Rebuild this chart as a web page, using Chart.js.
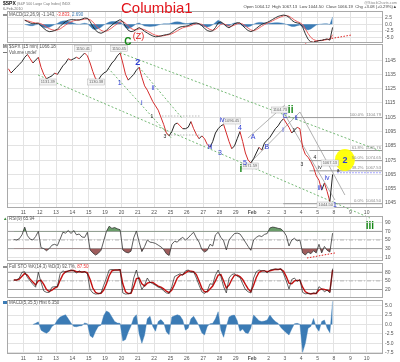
<!DOCTYPE html>
<html><head><meta charset="utf-8">
<script src="https://cdn.jsdelivr.net/npm/chart.js@4.4.1/dist/chart.umd.min.js"></script>
<style>
html,body{margin:0;padding:0;background:#fff;}
#wrap{position:relative;width:400px;height:362px;overflow:hidden;}
#wrap canvas{position:absolute;left:0;top:0;}
</style></head><body>
<div id="wrap">
<canvas id="cMacd" width="400" height="362"></canvas>
<canvas id="cMain" width="400" height="362"></canvas>
<canvas id="cRsi" width="400" height="362"></canvas>
<canvas id="cSto" width="400" height="362"></canvas>
<canvas id="cHist" width="400" height="362"></canvas>
</div>
<script>
// ---------- data (15-min chart sampled 6 times per trading day, Jan 8 .. Feb 5 2010) ----------
const dayLabels = ['11','12','13','14','15','19','20','21','22','25','26','27','28','29','Feb','2','3','4','5','8','9','10'];
const samplesPerDay = 6;

const priceClose = [
1139,1136,1138,1140,1142,1144, 1147,1149,1146,1143,1145,1147, 1140,1135,1132,1133,1134,1136,
1135,1138,1141,1143,1146,1145, 1146,1147,1146,1148,1150,1148, 1143,1137,1132,1131,1134,1136,
1137,1140,1143,1145,1148,1150, 1143,1135,1131,1133,1135,1138, 1140,1133,1127,1124,1120,1116,
1113,1110,1105,1100,1094,1092, 1095,1100,1101,1099,1097,1097, 1098,1102,1097,1093,1090,1092,
1090,1086,1084,1088,1094,1097, 1099,1100,1094,1088,1083,1085, 1090,1095,1088,1080,1075,1073,
1076,1080,1084,1082,1087,1089, 1091,1094,1097,1099,1102,1104, 1101,1098,1094,1096,1098,1097,
1084,1079,1077,1074,1070,1064, 1061,1054,1059,1053,1046,1065];

const macdLine = [
null,null,null,null,null,null, 1.5,1.0,0.5,0.2,0.3,0.4, -0.5,-1.5,-2.3,-2.7,-2.6,-2.3,
-1.8,-0.8,0.2,1.0,1.5,1.7, 1.7,1.6,1.6,1.9,2.3,2.2, 1.0,-0.8,-2.2,-3.0,-3.3,-2.9,
-2.2,-1.2,-0.3,0.5,1.2,1.7, 1.0,-0.8,-2.2,-2.7,-2.5,-1.8, -1.2,-1.8,-2.6,-3.2,-3.8,-4.3,
-4.6,-4.5,-4.3,-4.0,-3.8,-3.6, -3.0,-2.2,-1.5,-1.0,-0.8,-0.7, -0.5,0.0,0.4,0.5,0.2,-0.5,
-1.5,-2.3,-2.6,-2.4,-1.2,0.5, 0.9,0.2,-0.8,-1.3,-0.6,0.2, 0.6,0.5,-0.5,-1.5,-2.3,-2.7,
-2.3,-1.5,-0.7,0.0,0.4,0.7, 1.2,1.8,2.4,2.9,3.2,3.4, 3.2,2.6,1.5,0.8,0.5,0.3,
-1.0,-3.5,-5.5,-6.5,-6.6,-6.3, -6.0,-5.9,-5.6,-5.4,-5.8,-1.143];

const macdSignal = [
null,null,null,null,null,null, 1.5,1.3,1.0,0.7,0.5,0.4, 0.2,-0.3,-1.0,-1.6,-2.0,-2.2,
-2.1,-1.7,-1.0,-0.3,0.4,0.9, 1.3,1.5,1.6,1.7,1.9,2.0, 1.7,0.9,-0.3,-1.4,-2.2,-2.6,
-2.5,-2.0,-1.3,-0.5,0.2,0.9, 1.0,0.4,-0.6,-1.5,-2.0,-2.0, -1.7,-1.7,-2.0,-2.5,-3.0,-3.6,
-4.0,-4.2,-4.3,-4.2,-4.0,-3.8, -3.5,-3.0,-2.4,-1.8,-1.3,-1.0, -0.8,-0.5,-0.1,0.2,0.2,0.0,
-0.6,-1.3,-1.9,-2.2,-1.9,-1.0, 0.0,0.2,-0.2,-0.7,-0.7,-0.3, 0.2,0.4,0.1,-0.6,-1.4,-2.1,
-2.3,-2.0,-1.4,-0.7,-0.1,0.4, 0.8,1.3,1.8,2.3,2.7,3.1, 3.2,3.0,2.3,1.6,1.0,0.6,
-0.1,-1.7,-3.4,-4.8,-5.6,-6.0, -6.0,-6.0,-5.8,-5.6,-5.7,-3.833];

const macdHist = [
null,null,null,null,null,null, 0.0,-0.3,-0.5,-0.5,-0.2,0.0, -0.7,-1.2,-1.3,-1.1,-0.6,-0.1,
0.3,0.9,1.2,1.3,1.1,0.8, 0.4,0.1,0.0,0.2,0.4,0.2, -0.7,-1.7,-1.9,-1.6,-1.1,-0.3,
0.3,0.8,1.0,1.0,1.0,0.8, 0.0,-1.2,-1.6,-1.2,-0.5,0.2, 0.5,-0.1,-0.6,-0.7,-0.8,-0.7,
-0.6,-0.3,0.0,0.2,0.2,0.2, 0.5,0.8,0.9,0.8,0.5,0.3, 0.3,0.5,0.5,0.3,0.0,-0.5,
-0.9,-1.0,-0.7,-0.2,0.7,1.5, 0.9,0.0,-0.6,-0.6,0.1,0.5, 0.4,0.1,-0.6,-0.9,-0.9,-0.6,
0.0,0.5,0.7,0.7,0.5,0.3, 0.4,0.5,0.6,0.6,0.5,0.3, 0.0,-0.4,-0.8,-0.8,-0.5,-0.3,
-0.9,-1.8,-2.1,-1.7,-1.0,-0.3, 0.0,0.1,0.2,0.2,-0.1,2.69];

const rsi9 = [
null,null,51,50,53,62, 80,60,52,50,58,70, 32,30,25,30,38,40,
37,52,68,66,72,65, 72,62,64,57,56,68, 27,20,15,19,26,48,
70,82,77,79,76,74, 27,22,20,24,55,71, 45,23,35,50,45,44,
42,38,34,28,18,14, 40,47,45,52,56,50, 55,62,68,55,45,28,
22,26,40,36,62,68, 56,48,27,50,58,65, 66,64,55,45,35,26,
50,56,60,58,63,65, 78,80,79,77,76,70, 60,36,50,54,48,50,
20,15,22,18,25,20, 40,20,35,26,22,65.94];

const stoK = [
null,null,53,53,60,80, 82,62,50,38,28,80, 45,15,10,10,28,30,
30,75,85,80,85,88, 85,78,85,80,82,75, 20,8,4,5,8,35,
60,88,90,88,88,90, 8,4,5,8,60,88, 50,20,35,60,45,40,
35,28,25,15,8,6, 30,65,70,75,70,85, 88,80,82,60,35,12,
6,15,40,38,70,88, 65,30,8,60,72,75, 66,62,40,20,12,8,
60,82,88,85,86,78, 88,90,92,90,93,75, 50,22,55,60,48,55,
10,5,6,4,8,6, 30,22,12,18,8,92.7];

const stoD = [
null,null,53,53,56,66, 76,70,56,46,36,50, 52,38,20,13,18,25,
30,52,72,82,84,86, 86,82,82,81,82,78, 55,25,10,6,7,18,
40,68,85,88,88,89, 40,12,6,7,30,58, 60,40,32,42,45,45,
38,32,28,22,14,9, 18,38,60,70,72,78, 85,84,82,72,50,25,
12,12,22,32,50,70, 72,50,25,35,55,70, 70,65,55,38,22,12,
35,62,80,85,85,82, 85,88,90,90,91,84, 65,42,40,50,52,52,
28,12,7,5,6,6, 18,22,20,18,14,87.5];

const macd2Hist = [
null,null,null,null,null,null, null,null,null,0.0,0.3,0.7, -1.5,-2.0,-2.3,-1.8,-0.5,0.0,
1.2,2.0,2.3,2.6,1.5,0.4, -0.5,-0.6,-0.4,-0.3,0.4,0.2, -3.0,-3.5,-1.8,-0.5,-0.2,2.4,
3.6,3.2,2.0,0.8,0.4,0.3, -4.4,-4.0,-2.0,-0.4,1.8,2.6, -2.5,-5.0,-2.8,1.5,2.2,-0.5,
-1.8,0.8,1.3,0.5,-2.0,-2.7, 2.0,2.3,2.6,2.3,1.2,-1.5, -1.0,1.5,2.2,1.0,-0.4,-2.2,
-2.8,-0.5,0.2,0.3,1.5,3.4, -1.5,-3.4,-0.5,2.0,2.4,2.5, 1.0,-1.8,-1.2,-2.2,-2.4,-1.0,
2.5,1.8,1.0,0.8,0.9,1.2, 2.5,1.5,0.8,0.3,-0.8,-1.5, -2.2,-2.8,-1.2,0.2,0.3,0.1,
-7.4,-5.0,-1.0,-0.5,1.6,-0.8, -1.8,0.8,1.2,-1.0,-2.2,6.2];

const priceTicks = [1045,1050,1055,1060,1065,1070,1075,1080,1085,1090,1095,1100,1105,1110,1115,1120,1125,1130,1135,1140,1145,1150];
const macdTicks = [-5,-2.5,0,2.5];
const rsiTicks = [10,30,50,70,90];
const rsiLevels = [70,30];
const stoTicks = [20,50,80];
const stoLevels = [80,20];
const histTicks = [-7.5,-5,-2.5,0,2.5,5];

const fibNames = ['100.0%','61.8%','50.0%','38.2%','0.0%'];
const fibLevels = [1104.79,1081.76,1074.65,1067.53,1044.50];
const fibStartDay = [16.9,18.5,18.5,18.5,16.9];
const lastPrice = 1066.18;

// trend lines: [day, value, day, value]
const greenTrends = [[6.91,1150.2,23.0,1080.7],[1.9,1134.6,22.2,1034.5],[6.18,1139.5,10.09,1090.0],[8.07,1140.2,10.7,1104.5]];
const grayTrends = [[14.56,1069.5,17.92,1108.7],[14.74,1090.5,17.0,1113.6],[16.94,1108.0,20.06,1047.1],[17.92,1108.7,20.67,1050.6]];
const grayGuides = [[9.48,1105.9,11.8,1105.9],[9.66,1092.6,11.8,1092.6]];
const macdTrend = [18.23,-6.9,21.1,-3.9];
const rsiTrend = [18.35,8.1,20.06,19.8];

// annotations: [text, day, price, kind]
const waveNotes = [
 ['1',6.9,1129.0,'b'],['2',8.0,1143.5,'B'],['i',8.25,1115.0,'b'],['ii',8.93,1125.5,'b'],
 ['1',8.87,1105.2,'k'],['3',9.66,1091.2,'k'],
 ['iii',12.42,1084.2,'b'],['3',13.03,1080.0,'b'],['iv',13.15,1103.1,'b'],['4',14.25,1097.5,'b'],
 ['5',14.56,1073.0,'b'],['i',14.3,1068.5,'g'],['A',15.05,1091.2,'b'],['B',15.9,1084.2,'b'],
 ['C',17.0,1105.9,'b'],['ii',17.35,1109.8,'g'],['i',16.88,1096.1,'b'],['ii',17.68,1104.5,'b'],
 ['1',17.55,1096.0,'k'],['3',18.04,1071.6,'k'],['4',18.84,1076.5,'k'],['iv',19.14,1069.5,'k'],
 ['iii',19.14,1055.5,'b'],['iv',19.57,1062.5,'b'],['1',20.06,1043.6,'b'],['a',20.25,1067.5,'k'],
 ['2',20.67,1074.6,'B'],['C',7.4,1157.6,'G'],['(Z)',8.05,1161.2,'r']];
const boxNotes = [['1150.41',4.65,1153.2],['1150.45',6.85,1153.2],['1131.39',2.5,1129.7],['1130.38',5.45,1129.7],
 ['1096.45',13.76,1102.4],['1071.59',14.86,1070.9],['1104.73',16.7,1110.1],['1044.50',19.5,1043.6],['1067.13',19.75,1073.0]];
const circleAt = [20.67,1075.1];

// ---------- rendering ----------
const H = 362;
const FONT = "'Liberation Sans', Arial, sans-serif";
Chart.defaults.font.family = FONT;
Chart.defaults.font.size = 5;
Chart.defaults.color = '#555';
Chart.defaults.animation = false;

const toXY = arr => arr.map((v, i) => ({x: (i + 0.5) / samplesPerDay, y: v}));
const seg = t => [{x: t[0], y: t[1]}, {x: t[2], y: t[3]}];
const hline = (v, from, to) => [{x: from, y: v}, {x: to, y: v}];

function txt(ctx, s, x, y, font, color, align, base) {
  ctx.font = font; ctx.fillStyle = color;
  ctx.textAlign = align || 'left'; ctx.textBaseline = base || 'middle';
  ctx.fillText(s, x, y);
  return ctx.measureText(s).width;
}
const f = (px, w) => (w ? w + ' ' : '') + px + 'px ' + FONT;

const boxPlugin = {id: 'panelBox', afterDraw(chart) {
  const {ctx, chartArea: a} = chart;
  ctx.save(); ctx.strokeStyle = '#a9a9a9'; ctx.lineWidth = 1;
  ctx.strokeRect(Math.round(a.left) + 0.5, Math.round(a.top) + 0.5, Math.round(a.right - a.left) - 1, Math.round(a.bottom - a.top) - 1);
  ctx.restore();
}};

function xScale(showLabels) {
  return {
    type: 'linear', min: 0, max: 23, offset: false,
    afterBuildTicks: ax => { ax.ticks = dayLabels.map((_, i) => ({value: i + 1})); },
    afterFit: ax => { ax.height = showLabels ? 9 : 0; },
    grid: {color: '#e3e3e3', drawTicks: false, lineWidth: 1},
    border: {display: false},
    ticks: {display: showLabels, padding: 2, maxRotation: 0, autoSkip: false, color: '#555',
      font: ctx => ({size: 5, weight: (ctx.tick && ctx.tick.value === 15) ? 'bold' : 'normal'}),
      callback: v => dayLabels[v - 1] || ''}
  };
}
function yScale(min, max, ticks, fmt) {
  return {
    type: 'linear', position: 'right', min, max,
    afterBuildTicks: ax => { ax.ticks = ticks.map(v => ({value: v})); },
    afterFit: ax => { ax.width = 17; },
    grid: {color: '#e3e3e3', drawTicks: false},
    border: {display: false},
    ticks: {padding: 2, color: '#555', font: {size: 5}, callback: fmt}
  };
}
function makeChart(id, top, bottom, showX, yOpts, datasets, draw) {
  return new Chart(document.getElementById(id), {
    type: 'line',
    data: {datasets},
    options: {
      responsive: false, animation: false, events: [],
      layout: {padding: {left: 7, right: 0, top: top, bottom: H - bottom - (showX ? 9 : 0)}},
      plugins: {legend: {display: false}, tooltip: {enabled: false}},
      scales: {x: xScale(showX), y: yOpts},
      elements: {point: {radius: 0}, line: {tension: 0}}
    },
    plugins: [boxPlugin, {id: 'notes', afterDraw(chart) {
      if (!draw) return;
      const c = chart.ctx; c.save(); draw(c, chart.scales.x, chart.scales.y); c.restore();
    }}]
  });
}

// ---- top MACD(12,26,9) panel + page header ----
makeChart('cMacd', 11, 43, false, yScale(-6.875, 4.89, macdTicks, v => v.toFixed(1)), [
  {data: toXY(macdLine), borderColor: '#222', borderWidth: 0.9},
  {data: toXY(macdSignal), borderColor: '#ee5555', borderWidth: 0.9},
  {data: seg(macdTrend), borderColor: '#e02020', borderWidth: 1, borderDash: [1.5, 1.5], clip: false},
  {data: toXY(macdHist), borderColor: '#3b7bb5', borderWidth: 0.4, backgroundColor: '#3b7bb5', fill: 'origin'}
], (ctx) => {
  let x = 3;
  x += txt(ctx, '$SPX', x, 3.5, f(5, 'bold'), '#111');
  txt(ctx, ' (S&P 500 Large Cap Index) INDX', x, 3.5, f(3.6), '#777');
  txt(ctx, '6-Feb-2010', 3, 9, f(3.8), '#777');
  txt(ctx, 'Columbia1', 121, 12.5, f(15), '#e3141b', 'left', 'alphabetic');
  txt(ctx, '@StockCharts.com', 397, 2.8, f(3.8), '#888', 'right');
  txt(ctx, 'Open 1064.12  High 1067.13  Low 1044.50  Close 1066.19  Chg +3.08 (+0.29%)\u25B2', 397, 7, f(4.2), '#444', 'right');
  ctx.fillStyle = '#222'; ctx.fillRect(3, 14.5, 4, 1);
  let lx = 9;
  lx += txt(ctx, 'MACD(12,26,9) -1.143, ', lx, 15, f(4.5), '#555');
  lx += txt(ctx, '-3.833, ', lx, 15, f(4.5), '#e33');
  txt(ctx, '2.690', lx, 15, f(4.5), '#3b7bb5');
});

// ---- main price panel ----
const styleMap = {
  b: [f(7), '#2d3cd2'], B: [f(9, 'bold'), '#2d3cd2'], k: [f(5), '#222'],
  g: [f(10, 'bold'), '#168816'], G: [f(10, 'bold'), '#168816'], r: [f(9), '#e02020']
};
makeChart('cMain', 44, 208, true, yScale(1041.5, 1156.3, priceTicks, v => String(v)), [
  {data: toXY(priceClose), borderWidth: 1, borderColor: '#222',
   segment: {borderColor: c => c.p1.parsed.y < c.p0.parsed.y ? '#d42b2b' : '#262626'}},
  ...greenTrends.map(t => ({data: seg(t), borderColor: '#74b874', borderWidth: 1, borderDash: [2, 2], clip: false})),
  ...grayTrends.map(t => ({data: seg(t), borderColor: '#9d9d9d', borderWidth: 0.8})),
  ...grayGuides.map(t => ({data: seg(t), borderColor: '#aaaaaa', borderWidth: 0.8, borderDash: [1.5, 1.5]})),
  {data: hline(lastPrice, 20.2, 23), borderColor: '#6b6bff', borderWidth: 0.8, borderDash: [1.5, 1.5]},
  ...fibLevels.map((v, i) => ({data: hline(v, fibStartDay[i], 23), borderColor: '#9a9a9a', borderWidth: 1}))
], (ctx, xs, ys) => {
  const cx = xs.getPixelForValue(circleAt[0]), cy = ys.getPixelForValue(circleAt[1]);
  ctx.fillStyle = 'rgba(255,255,0,0.95)';
  ctx.beginPath(); ctx.ellipse(cx, cy, 10, 11, 0, 0, Math.PI * 2); ctx.fill();
  fibLevels.forEach((v, i) => txt(ctx, fibNames[i] + '  ' + v.toFixed(2), 381, ys.getPixelForValue(v) - 3, f(4.2), '#8a8a8a', 'right'));
  boxNotes.forEach(([s, d, p]) => {
    ctx.font = f(4); const w = ctx.measureText(s).width + 3;
    const x = xs.getPixelForValue(d), y = ys.getPixelForValue(p);
    ctx.fillStyle = '#f3f3f3'; ctx.fillRect(x - w / 2, y - 3, w, 6);
    ctx.strokeStyle = '#b5b5b5'; ctx.lineWidth = 0.5; ctx.strokeRect(x - w / 2, y - 3, w, 6);
    txt(ctx, s, x, y, f(4), '#666', 'center');
  });
  waveNotes.forEach(([s, d, p, k]) => {
    const st = styleMap[k];
    txt(ctx, s, xs.getPixelForValue(d), ys.getPixelForValue(p), st[0], st[1], 'center');
  });
  txt(ctx, 'M', 3, 47, f(4.5, 'bold'), '#555');
  txt(ctx, '$SPX (15 min) 1066.18', 9, 47, f(4.5), '#555');
  ctx.fillStyle = '#777'; ctx.fillRect(3, 52, 4, 1);
  txt(ctx, 'Volume undef', 9, 52.5, f(4.5), '#555');
});

// ---- RSI panel ----
makeChart('cRsi', 216, 261, false, yScale(1.16, 105.8, rsiTicks, v => String(v)), [
  {data: toXY(rsi9), borderColor: '#333', borderWidth: 0.8,
   fill: {target: {value: 70}, above: '#6a9d6a', below: 'rgba(0,0,0,0)'}},
  {data: toXY(rsi9), borderColor: 'rgba(0,0,0,0)', borderWidth: 0,
   fill: {target: {value: 30}, above: 'rgba(0,0,0,0)', below: '#9e5c5c'}},
  ...rsiLevels.map(v => ({data: hline(v, 0, 23), borderColor: '#9c9c9c', borderWidth: 1})),
  {data: hline(50, 0, 23), borderColor: '#aaaaaa', borderWidth: 0.8, borderDash: [4, 2, 1, 2]},
  {data: seg(rsiTrend), borderColor: '#e02020', borderWidth: 1, borderDash: [1.5, 1.5]}
], (ctx, xs, ys) => {
  txt(ctx, '\u25B2', 3, 219, f(4.5), '#3a8a3a');
  txt(ctx, 'RSI(9) 65.94', 9, 219, f(4.5), '#555');
  txt(ctx, 'iii', xs.getPixelForValue(22.2), ys.getPixelForValue(81), f(10, 'bold'), '#168816', 'center');
});

// ---- Full STO panel ----
makeChart('cSto', 263, 298, false, yScale(-9.6, 112.4, stoTicks, v => String(v)), [
  {data: toXY(stoK), borderColor: '#222', borderWidth: 0.7},
  {data: toXY(stoD), borderColor: '#c41010', borderWidth: 1.4},
  ...stoLevels.map(v => ({data: hline(v, 0, 23), borderColor: '#9c9c9c', borderWidth: 1})),
  {data: hline(50, 0, 23), borderColor: '#aaaaaa', borderWidth: 0.8, borderDash: [4, 2, 1, 2]}
], (ctx) => {
  ctx.fillStyle = '#222'; ctx.fillRect(3, 266.5, 4, 1);
  let x = 9;
  x += txt(ctx, 'Full STO %K(14,3) %D(3) 92.7%, ', x, 267, f(4.5), '#555');
  txt(ctx, '87.50', x, 267, f(4.5), '#e33');
});

// ---- MACD(5,35,5) histogram panel ----
makeChart('cHist', 300, 354, true, yScale(-7.85, 6.52, histTicks, v => v.toFixed(1)), [
  {data: toXY(macd2Hist), borderColor: '#3b7bb5', borderWidth: 0.4, backgroundColor: '#3b7bb5', fill: 'origin'}
], (ctx) => {
  ctx.fillStyle = '#3b7bb5'; ctx.fillRect(3, 301, 4, 3);
  txt(ctx, 'MACD(5,35,5) Hist 6.350', 9, 302.5, f(4.5), '#555');
});
</script>
</body></html>
